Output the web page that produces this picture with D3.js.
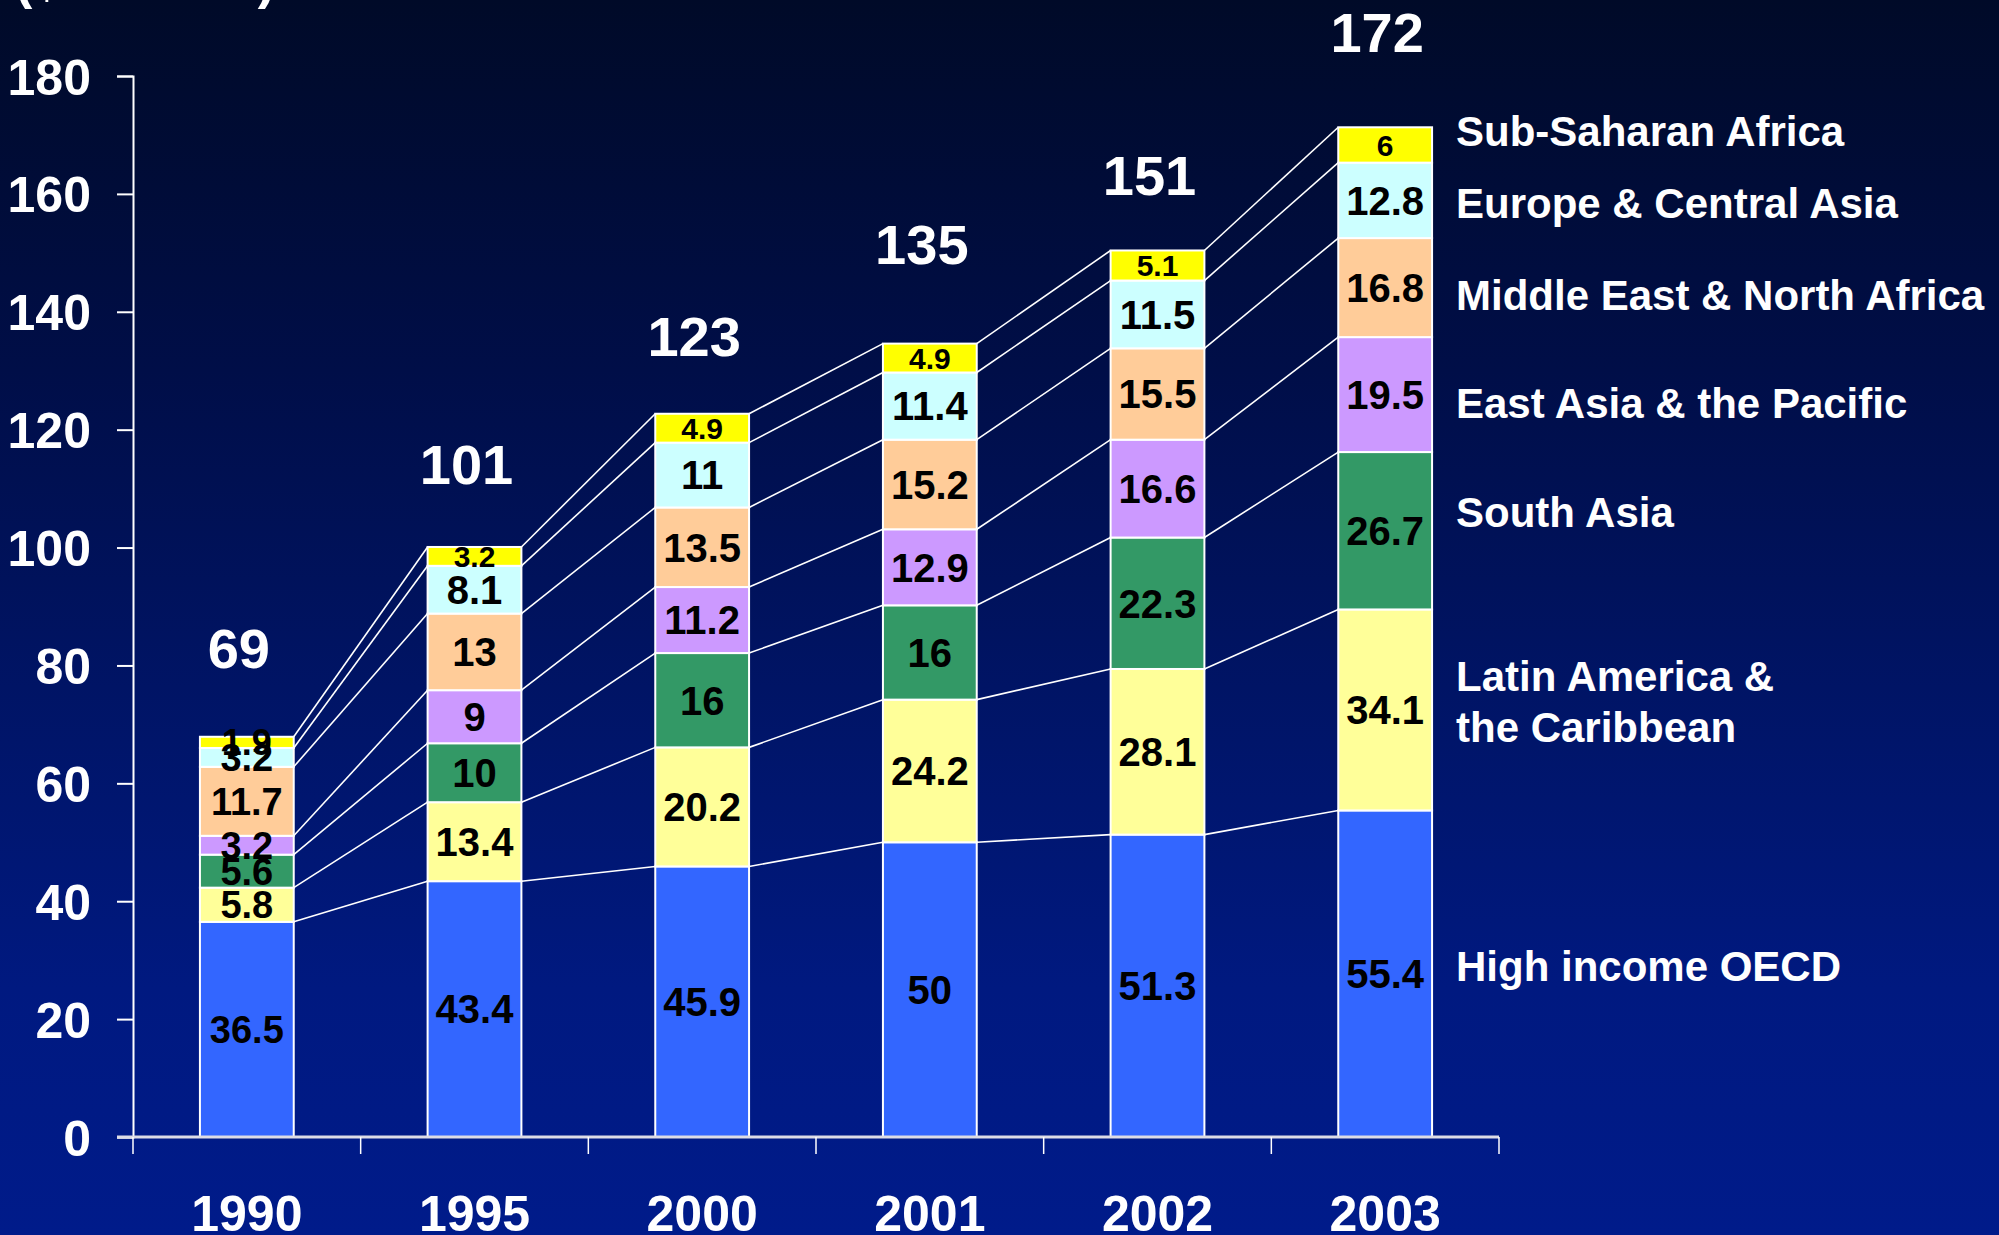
<!DOCTYPE html>
<html>
<head>
<meta charset="utf-8">
<script src="https://cdn.jsdelivr.net/npm/d3@7"></script>
<style>
  html, body { margin: 0; padding: 0; background: #001b8a; }
  svg { display: block; }
  text { font-family: "Liberation Sans", Arial, sans-serif; font-weight: bold; }
</style>
</head>
<body>
<svg id="chart" width="1999" height="1235"></svg>
<script>
// Net private capital flows by destination region ($ billions)
const years = ["1990", "1995", "2000", "2001", "2002", "2003"];
const regions = [
  "High income OECD",
  "Latin America & the Caribbean",
  "South Asia",
  "East Asia & the Pacific",
  "Middle East & North Africa",
  "Europe & Central Asia",
  "Sub-Saharan Africa"
];
const highIncomeOECD   = [36.5, 43.4, 45.9, 50, 51.3, 55.4];
const latinAmerica     = [5.8, 13.4, 20.2, 24.2, 28.1, 34.1];
const southAsia        = [5.6, 10, 16, 16, 22.3, 26.7];
const eastAsiaPacific  = [3.2, 9, 11.2, 12.9, 16.6, 19.5];
const middleEastNAfr   = [11.7, 13, 13.5, 15.2, 15.5, 16.8];
const europeCentralAs  = [3.2, 8.1, 11, 11.4, 11.5, 12.8];
const subSaharanAfrica = [1.9, 3.2, 4.9, 4.9, 5.1, 6];
const totals = [69, 101, 123, 135, 151, 172];
const yTickValues = [0, 20, 40, 60, 80, 100, 120, 140, 160, 180];

const seriesValues = [highIncomeOECD, latinAmerica, southAsia, eastAsiaPacific,
                      middleEastNAfr, europeCentralAs, subSaharanAfrica];
const colors = ["#3366ff", "#ffff99", "#339966", "#cc99ff", "#ffcc99", "#ccffff", "#ffff00"];

// hand placement of the total labels above each bar (px)
const totalLift = [62, 58, 56, 77, 52, 71];

// legend text lines and their baselines
const legendLines = [
  [["High income OECD"], 981],
  [["Latin America &", "the Caribbean"], 691],
  [["South Asia"], 527],
  [["East Asia & the Pacific"], 418],
  [["Middle East & North Africa"], 310],
  [["Europe & Central Asia"], 218],
  [["Sub-Saharan Africa"], 146]
];

const rows = years.map((yr, i) => {
  const r = { year: yr };
  regions.forEach((name, k) => { r[name] = seriesValues[k][i]; });
  return r;
});
const stacked = d3.stack().keys(regions)(rows);

const svg = d3.select("#chart");
const W = 1999, H = 1235;

// background gradient
const defs = svg.append("defs");
const grad = defs.append("linearGradient").attr("id", "bg")
  .attr("x1", 0).attr("y1", 0).attr("x2", 0).attr("y2", 1);
[[0, "#000a28"], [0.3, "#000e48"], [0.6, "#00156a"], [0.8, "#001980"], [1, "#001b8a"]]
  .forEach(([o, c]) => grad.append("stop").attr("offset", o).attr("stop-color", c));
svg.append("rect").attr("width", W).attr("height", H).attr("fill", "url(#bg)");

// units label at the top edge
svg.append("text").attr("x", 15).attr("y", -2)
  .attr("fill", "#fff").attr("font-size", 52).text("($ billions)");

const x = d3.scaleBand().domain(years).range([133, 1499]).padding(0);
const y = d3.scaleLinear().domain([0, 180]).range([1137, 76]);
const barW = x.bandwidth() * 0.412;
const barX = d => x(d) + (x.bandwidth() - barW) / 2;

// connector lines between adjacent bars at each segment top
const conn = svg.append("g").attr("stroke", "#fff").attr("stroke-width", 1.6).attr("fill", "none");
stacked.forEach(layer => {
  for (let i = 0; i < years.length - 1; i++) {
    conn.append("line")
      .attr("x1", barX(years[i]) + barW).attr("y1", y(layer[i][1]))
      .attr("x2", barX(years[i + 1])).attr("y2", y(layer[i + 1][1]));
  }
});

// stacked bars
stacked.forEach((layer, k) => {
  svg.append("g").selectAll("rect").data(layer).join("rect")
    .attr("x", d => barX(d.data.year))
    .attr("y", d => y(d[1]))
    .attr("width", barW)
    .attr("height", d => y(d[0]) - y(d[1]))
    .attr("fill", colors[k])
    .attr("stroke", "#fff").attr("stroke-width", 2);
});

// segment value labels (top series first so lower labels sit above)
for (let k = stacked.length - 1; k >= 0; k--) {
  const layer = stacked[k];
  const small = k === stacked.length - 1;
  svg.append("g").selectAll("text").data(layer).join("text")
    .attr("x", d => barX(d.data.year) + barW / 2)
    .attr("y", d => y((d[0] + d[1]) / 2))
    .attr("dy", "0.36em")
    .attr("text-anchor", "middle")
    .attr("fill", "#000")
    .attr("font-size", (d, i) => small ? (i === 0 ? 36 : 30) : (i === 0 ? 38 : 40))
    .text(d => seriesValues[k][years.indexOf(d.data.year)]);
}

// totals above bars
svg.append("g").selectAll("text").data(years).join("text")
  .attr("x", d => x(d) + x.bandwidth() / 2 - 8)
  .attr("y", (d, i) => y(totals[i]) - totalLift[i])
  .attr("text-anchor", "middle")
  .attr("fill", "#fff").attr("font-size", 56)
  .text((d, i) => totals[i]);

// y axis
const yAxis = svg.append("g").attr("transform", "translate(133,0)")
  .call(d3.axisLeft(y).tickValues(yTickValues).tickSize(16).tickPadding(26).tickFormat(d3.format("d")));
yAxis.select(".domain").attr("stroke", "#fff").attr("stroke-width", 2);
yAxis.selectAll(".tick line").attr("stroke", "#fff").attr("stroke-width", 2);
yAxis.selectAll(".tick text").attr("fill", "#fff").attr("font-size", 50)
  .attr("font-family", null).attr("dy", "0.36em");

// x axis
const xg = svg.append("g");
xg.append("line").attr("x1", 117).attr("x2", 1499).attr("y1", y(0)).attr("y2", y(0))
  .attr("stroke", "#dcdce6").attr("stroke-width", 3);
xg.selectAll("line.tk").data(years.concat(["end"])).join("line").attr("class", "tk")
  .attr("x1", (d, i) => 133 + i * x.bandwidth()).attr("x2", (d, i) => 133 + i * x.bandwidth())
  .attr("y1", y(0)).attr("y2", y(0) + 17)
  .attr("stroke", "#fff").attr("stroke-width", 1.5);
xg.selectAll("text").data(years).join("text")
  .attr("x", d => x(d) + x.bandwidth() / 2)
  .attr("y", 1231)
  .attr("text-anchor", "middle")
  .attr("fill", "#fff").attr("font-size", 50)
  .text(d => d);

// region legend at right
const lg = svg.append("g");
legendLines.forEach(([lines, base]) => {
  lines.forEach((t, j) => {
    lg.append("text").attr("x", 1456).attr("y", base + j * 51)
      .attr("fill", "#fff").attr("font-size", 42).text(t);
  });
});
</script>
</body>
</html>
